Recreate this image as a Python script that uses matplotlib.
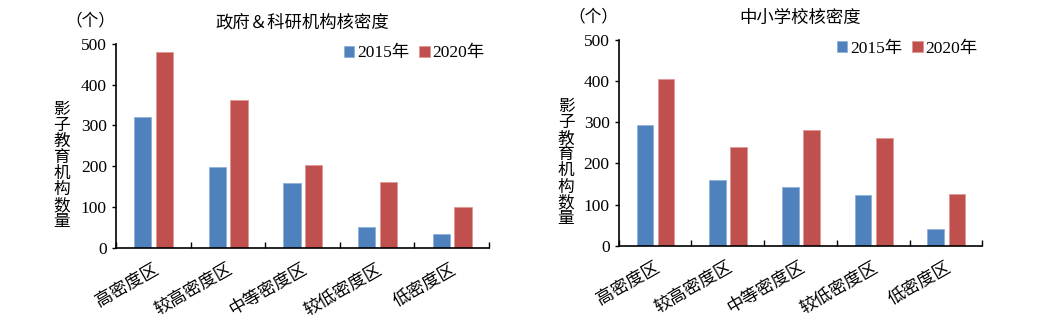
import matplotlib
matplotlib.use('Agg')
import matplotlib.pyplot as plt
import numpy as np

plt.rcParams['font.family'] = ['Liberation Serif', 'Noto Sans CJK SC', 'DejaVu Sans']
plt.rcParams['font.size'] = 12

categories = ['高密度区', '较高密度区', '中等密度区', '较低密度区', '低密度区']
gov_2015 = [320, 198, 158, 50, 33]
gov_2020 = [480, 363, 204, 162, 101]
school_2015 = [294, 160, 142, 123, 40]
school_2020 = [405, 239, 282, 263, 125]
titles = ['政府＆科研机构核密度', '中小学校核密度']
series_labels = ['2015年', '2020年']
yticks = [0, 100, 200, 300, 400, 500]

blue = '#4F81BD'
red = '#C0504D'

fig = plt.figure(figsize=(10.54, 3.35), dpi=100)
axes_rects = [[0.110, 0.260, 0.354, 0.609], [0.587, 0.266, 0.345, 0.615]]
data = [(gov_2015, gov_2020), (school_2015, school_2020)]

for rect, (a, b), title in zip(axes_rects, data, titles):
    ax = fig.add_axes(rect)
    x = np.arange(len(categories))
    ax.bar(x - 0.14, a, width=0.23, color=blue, edgecolor='#8FB0DA', linewidth=0.6, label=series_labels[0])
    ax.bar(x + 0.15, b, width=0.23, color=red, edgecolor='#E09896', linewidth=0.6, label=series_labels[1])
    ax.set_xlim(-0.5, len(categories) - 0.5)
    ax.set_ylim(0, 500)
    ax.set_yticks(yticks)
    ax.set_xticks(np.arange(len(categories) + 1) - 0.5, minor=False)
    ax.set_xticklabels([])
    ax.tick_params(axis='x', direction='in', length=4, width=1)
    ax.set_xticks(x, minor=True)
    ax.set_xticklabels(categories, minor=True, rotation=30, ha='right', rotation_mode='anchor')
    ax.tick_params(axis='x', which='minor', length=0, pad=10, labelsize=12.5)
    ax.tick_params(axis='y', direction='out', length=3, width=1, labelsize=12.5)
    for s in ['top', 'right']:
        ax.spines[s].set_visible(False)
    ax.spines['left'].set_linewidth(1.2)
    ax.spines['bottom'].set_linewidth(1.2)
    ax.text(0.5, 1.10, title, transform=ax.transAxes, ha='center', va='center', fontsize=12.5)
    ax.text(-0.07, 1.11, '（个）', transform=ax.transAxes, ha='center', va='center', fontsize=12)
    ax.text(-0.145, 0.40, '\n'.join('影子教育机构数量'), transform=ax.transAxes,
            ha='center', va='center', fontsize=12, linespacing=1.0)
    ax.legend(loc='upper right', bbox_to_anchor=(1.03, 1.07), ncol=2, frameon=False,
              handlelength=0.6, handleheight=0.6, handletextpad=0.15, columnspacing=0.6,
              fontsize=12.5)

fig.savefig('out.png', dpi=100)
